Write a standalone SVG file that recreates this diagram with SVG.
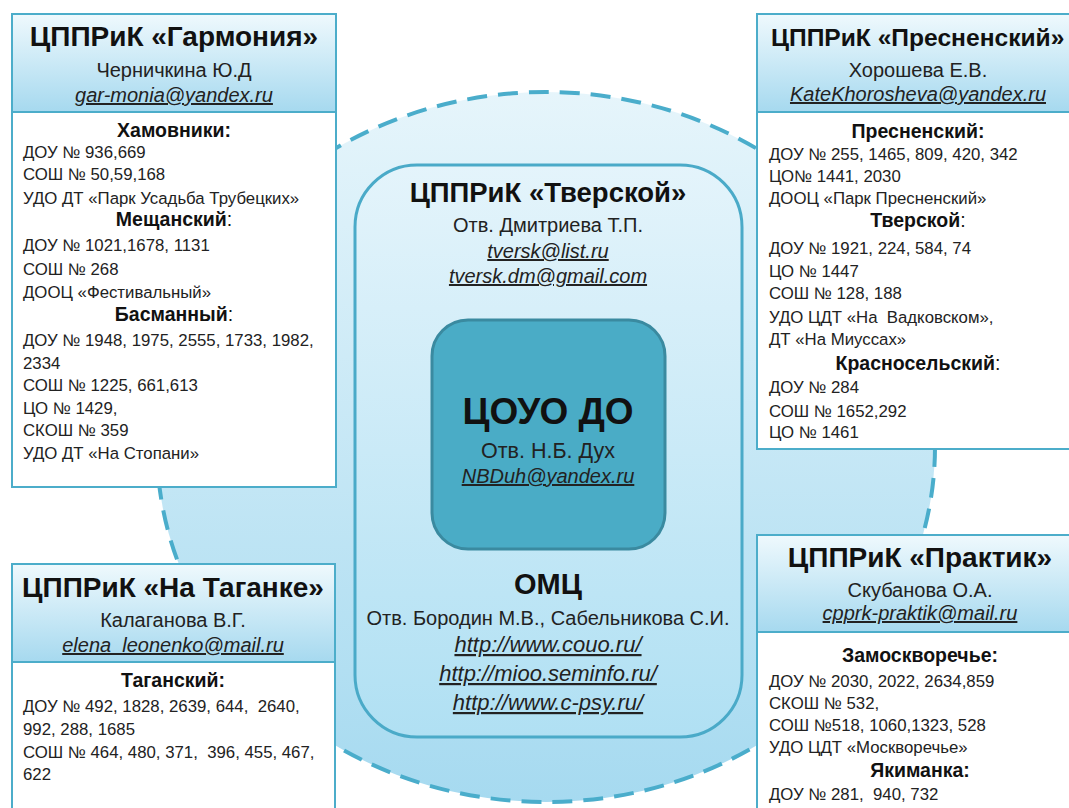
<svg xmlns="http://www.w3.org/2000/svg" width="1069" height="808" viewBox="0 0 1069 808">
<defs>
<linearGradient id="gEll" x1="0" y1="0" x2="0" y2="1"><stop offset="0" stop-color="#e6f5fb"/><stop offset="1" stop-color="#a6daf0"/></linearGradient>
<linearGradient id="gIn" x1="0" y1="0" x2="0" y2="1"><stop offset="0" stop-color="#e4f4fb"/><stop offset="1" stop-color="#b0e0f3"/></linearGradient>
<linearGradient id="gHdr" x1="0" y1="0" x2="0" y2="1"><stop offset="0" stop-color="#eff9fd"/><stop offset="1" stop-color="#a6d9ef"/></linearGradient>
<style>
text{font-family:"Liberation Sans",Arial,sans-serif;fill:#111;white-space:pre}
.ttl{font-size:28px;font-weight:bold;text-anchor:middle}
.sub{font-size:20px;text-anchor:middle;fill:#222}
.mail{font-size:20px;font-style:italic;text-decoration:underline;text-anchor:middle;fill:#222}
.dist{font-size:19.5px;font-weight:bold;text-anchor:middle}
.ln{font-size:16.8px;fill:#222}
.rg{font-weight:normal}
.box{fill:#fff;stroke:#4cadca;stroke-width:2}
.hdr{fill:url(#gHdr);stroke:#4cadca;stroke-width:2}
</style>
</defs>
<g id="background">
<ellipse cx="546" cy="447" rx="389" ry="355" fill="url(#gEll)" stroke="#4aadcb" stroke-width="4" stroke-dasharray="20 11"/>
</g>
<g id="connectors"></g>
<g id="tverskoy-omc">
<rect x="355" y="165" width="387" height="572" rx="62" fill="url(#gIn)" stroke="#4aaac8" stroke-width="3"/>
<text class="ttl" x="548" y="202" style="font-size:27.5px">ЦППРиК «Тверской»</text>
<text class="sub" x="548" y="232">Отв. Дмитриева Т.П.</text>
<text class="mail" x="548" y="258">tversk@list.ru</text>
<text class="mail" x="548" y="283">tversk.dm@gmail.com</text>
<text class="ttl" x="548" y="594" style="font-size:29px">ОМЦ</text>
<text class="sub" x="548" y="625">Отв. Бородин М.В., Сабельникова С.И.</text>
<text class="mail" x="548" y="652" style="font-size:22px">http://www.couo.ru/</text>
<text class="mail" x="548" y="681" style="font-size:22px">http://mioo.seminfo.ru/</text>
<text class="mail" x="548" y="710" style="font-size:22px">http://www.c-psy.ru/</text>
</g>
<g id="couo">
<rect x="432" y="320" width="233" height="229" rx="36" fill="#4aacc6" stroke="#3a8aa0" stroke-width="3"/>
<text x="548" y="424" style="font-size:37px;font-weight:bold;text-anchor:middle">ЦОУО ДО</text>
<text class="sub" x="548" y="458" style="font-size:21.5px">Отв. Н.Б. Дух</text>
<text class="mail" x="548" y="483">NBDuh@yandex.ru</text>
</g>
<g id="garmonia">
<rect class="box" x="12" y="14" width="324" height="473"/>
<rect class="hdr" x="12" y="14" width="324" height="98"/>
<text class="ttl" x="174" y="46">ЦППРиК «Гармония»</text>
<text class="sub" x="174" y="77">Черничкина Ю.Д</text>
<text class="mail" x="174" y="102">gar-monia@yandex.ru</text>
<text class="dist" x="174" y="137">Хамовники:</text>
<text class="ln" x="23" y="158">ДОУ № 936,669</text>
<text class="ln" x="23" y="180">СОШ № 50,59,168</text>
<text class="ln" x="23" y="204">УДО ДТ «Парк Усадьба Трубецких»</text>
<text class="dist" x="174" y="226">Мещанский<tspan class="rg">:</tspan></text>
<text class="ln" x="23" y="251">ДОУ № 1021,1678, 1131</text>
<text class="ln" x="23" y="275">СОШ № 268</text>
<text class="ln" x="23" y="298">ДООЦ «Фестивальный»</text>
<text class="dist" x="174" y="321">Басманный<tspan class="rg">:</tspan></text>
<text class="ln" x="23" y="346">ДОУ № 1948, 1975, 2555, 1733, 1982,</text>
<text class="ln" x="23" y="369">2334</text>
<text class="ln" x="23" y="391">СОШ № 1225, 661,613</text>
<text class="ln" x="23" y="414">ЦО № 1429,</text>
<text class="ln" x="23" y="436">СКОШ № 359</text>
<text class="ln" x="23" y="459">УДО ДТ «На Стопани»</text>
</g>
<g id="presnensky">
<rect class="box" x="757" y="14" width="330" height="435"/>
<rect class="hdr" x="757" y="14" width="330" height="98"/>
<text class="ttl" x="771" y="46" style="font-size:24.6px;text-anchor:start">ЦППРиК «Пресненский»</text>
<text class="sub" x="918" y="77">Хорошева Е.В.</text>
<text class="mail" x="918" y="101">KateKhorosheva@yandex.ru</text>
<text class="dist" x="918" y="138">Пресненский:</text>
<text class="ln" x="769" y="160">ДОУ № 255, 1465, 809, 420, 342</text>
<text class="ln" x="769" y="182">ЦО№ 1441, 2030</text>
<text class="ln" x="769" y="204">ДООЦ «Парк Пресненский»</text>
<text class="dist" x="918" y="227">Тверской<tspan class="rg">:</tspan></text>
<text class="ln" x="769" y="254">ДОУ № 1921, 224, 584, 74</text>
<text class="ln" x="769" y="277">ЦО № 1447</text>
<text class="ln" x="769" y="299">СОШ № 128, 188</text>
<text class="ln" x="769" y="323">УДО ЦДТ «На  Вадковском»,</text>
<text class="ln" x="769" y="345">ДТ «На Миуссах»</text>
<text class="dist" x="918" y="370">Красносельский<tspan class="rg">:</tspan></text>
<text class="ln" x="769" y="393">ДОУ № 284</text>
<text class="ln" x="769" y="417">СОШ № 1652,292</text>
<text class="ln" x="769" y="438">ЦО № 1461</text>
</g>
<g id="taganka">
<rect class="box" x="12" y="564" width="323" height="260"/>
<rect class="hdr" x="12" y="564" width="323" height="98"/>
<text class="ttl" x="173" y="597">ЦППРиК «На Таганке»</text>
<text class="sub" x="173" y="627">Калаганова В.Г.</text>
<text class="mail" x="173" y="652">elena_leonenko@mail.ru</text>
<text class="dist" x="173" y="687">Таганский:</text>
<text class="ln" x="23" y="712">ДОУ № 492, 1828, 2639, 644,  2640,</text>
<text class="ln" x="23" y="735">992, 288, 1685</text>
<text class="ln" x="23" y="758">СОШ № 464, 480, 371,  396, 455, 467,</text>
<text class="ln" x="23" y="780">622</text>
</g>
<g id="praktik">
<rect class="box" x="757" y="535" width="330" height="290"/>
<rect class="hdr" x="757" y="535" width="330" height="97"/>
<text class="ttl" x="920" y="567">ЦППРиК «Практик»</text>
<text class="sub" x="920" y="597">Скубанова О.А.</text>
<text class="mail" x="920" y="620">cpprk-praktik@mail.ru</text>
<text class="dist" x="920" y="662">Замоскворечье:</text>
<text class="ln" x="769" y="687">ДОУ № 2030, 2022, 2634,859</text>
<text class="ln" x="769" y="709">СКОШ № 532,</text>
<text class="ln" x="769" y="731">СОШ №518, 1060,1323, 528</text>
<text class="ln" x="769" y="753">УДО ЦДТ «Москворечье»</text>
<text class="dist" x="920" y="777">Якиманка:</text>
<text class="ln" x="769" y="800">ДОУ № 281,  940, 732</text>
</g>
</svg>
